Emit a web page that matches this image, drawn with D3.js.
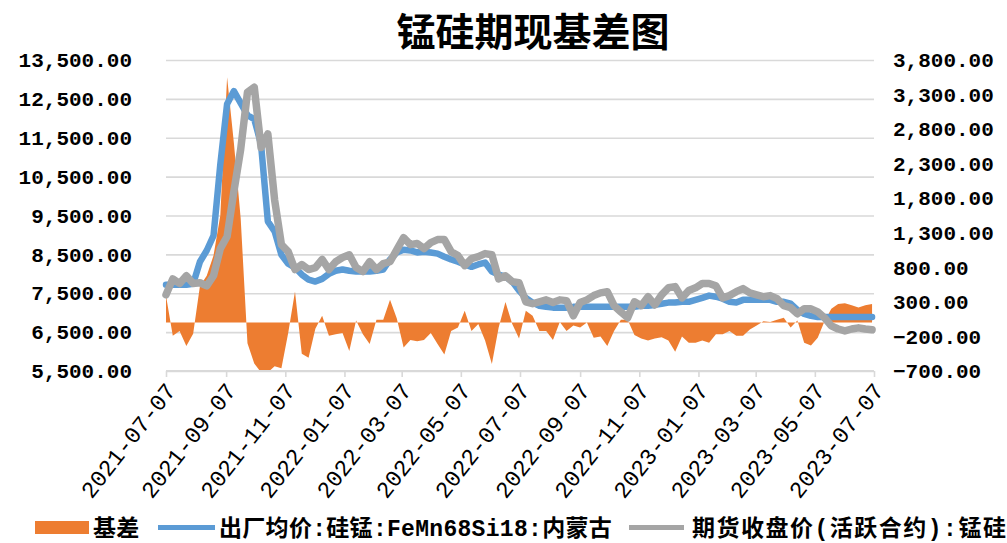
<!DOCTYPE html>
<html><head><meta charset="utf-8">
<script src="https://cdn.jsdelivr.net/npm/d3@7"></script>
<style>
html,body{margin:0;padding:0;background:#fff;}
svg{display:block;}
</style></head>
<body>
<svg id="c" width="1007" height="543"></svg>
<script>
const dates = [
"2021-07-07","2021-07-14","2021-07-21","2021-07-28","2021-08-04","2021-08-11","2021-08-18","2021-08-25","2021-09-01","2021-09-08","2021-09-15","2021-09-22","2021-09-29","2021-10-06","2021-10-13","2021-10-20","2021-10-27","2021-11-03","2021-11-10","2021-11-17","2021-11-24","2021-12-01","2021-12-08","2021-12-15","2021-12-22","2021-12-29",
"2022-01-05","2022-01-12","2022-01-19","2022-01-26","2022-02-02","2022-02-09","2022-02-16","2022-02-23","2022-03-02","2022-03-09","2022-03-16","2022-03-23","2022-03-30","2022-04-06","2022-04-13","2022-04-20","2022-04-27","2022-05-04","2022-05-11","2022-05-18","2022-05-25","2022-06-01","2022-06-08","2022-06-15","2022-06-22","2022-06-29","2022-07-06","2022-07-13","2022-07-20","2022-07-27","2022-08-03","2022-08-10","2022-08-17","2022-08-24","2022-08-31","2022-09-07","2022-09-14","2022-09-21","2022-09-28","2022-10-05","2022-10-12","2022-10-19","2022-10-26","2022-11-02","2022-11-09","2022-11-16","2022-11-23","2022-11-30","2022-12-07","2022-12-14","2022-12-21","2022-12-28",
"2023-01-04","2023-01-11","2023-01-18","2023-01-25","2023-02-01","2023-02-08","2023-02-15","2023-02-22","2023-03-01","2023-03-08","2023-03-15","2023-03-22","2023-03-29","2023-04-05","2023-04-12","2023-04-19","2023-04-26","2023-05-03","2023-05-10","2023-05-17","2023-05-24","2023-05-31","2023-06-07","2023-06-14","2023-06-21","2023-06-28","2023-07-05"
];
// 出厂均价:硅锰:FeMn68Si18:内蒙古 (left axis)
const spot = [
7720,7720,7720,7720,7745,8310,8600,8980,10820,12370,12700,12390,12080,11980,11330,9350,9090,8490,8260,8160,7980,7850,7800,7870,8000,8080,
8110,8080,8060,8060,8060,8080,8110,8370,8550,8620,8600,8550,8570,8550,8520,8440,8370,8310,8240,8180,8240,8290,8060,7980,7930,7800,7570,7380,7260,7180,7150,7130,7130,7130,7150,7150,7150,7150,7150,7150,7150,7150,7150,7150,7180,7180,7200,7230,7260,7260,7280,7280,
7330,7380,7440,7410,7360,7280,7260,7330,7330,7330,7330,7330,7280,7280,7230,7070,6970,6920,6890,6890,6890,6890,6890,6890,6890,6890,6890
];
// 期货收盘价(活跃合约):锰硅 (left axis)
const futures = [
7460,7870,7750,7950,7750,7770,7690,7950,8650,8960,10120,11200,12670,12800,11250,11600,9900,8750,8570,8110,8240,8110,8160,8370,8110,8310,
8420,8490,8160,8060,8310,8110,8260,8310,8620,8930,8750,8780,8650,8800,8880,8880,8570,8470,8210,8390,8440,8520,8490,7870,7950,7800,7770,7280,7230,7280,7330,7260,7330,7310,6920,7260,7330,7440,7510,7540,7180,7020,6870,7280,7180,7410,7200,7460,7640,7670,7380,7570,
7640,7750,7750,7690,7380,7440,7540,7620,7510,7460,7410,7440,7360,7180,7130,6970,7100,7100,7020,6870,6660,6580,6530,6580,6610,6580,6560
];
// 基差 (right axis)
const basis = [
390,-190,-120,-340,-160,530,680,970,1550,3550,2600,1510,-300,-590,-720,-720,-630,-660,-150,450,-450,-510,-90,100,-190,-170,
-150,-410,30,-170,-310,40,40,330,60,-360,-250,-270,-250,-150,-310,-460,-120,-70,170,-120,-20,-260,-600,-70,300,-20,-230,170,100,-120,-120,-250,10,-120,-40,-70,0,-220,-200,-340,-120,40,40,-180,-230,-260,-230,-210,-260,-420,-200,-290,
-290,-260,-290,-170,-170,-120,-190,-190,-100,-40,20,10,40,70,-70,30,-290,-330,-220,20,200,270,280,250,220,250,270
];
const xTickLabels = ["2021-07-07","2021-09-07","2021-11-07","2022-01-07","2022-03-07","2022-05-07","2022-07-07","2022-09-07","2022-11-07","2023-01-07","2023-03-07","2023-05-07","2023-07-07"];
const leftTicks = [5500,6500,7500,8500,9500,10500,11500,12500,13500];
const rightTicks = [-700,-200,300,800,1300,1800,2300,2800,3300,3800];
const seriesNames = ["基差","出厂均价:硅锰:FeMn68Si18:内蒙古","期货收盘价(活跃合约):锰硅"];
const title = "锰硅期现基差图";

const parse = d3.timeParse("%Y-%m-%d");
const svg = d3.select("#c");
const L = 166, R = 874, T = 60, B = 371;
const x = d3.scaleTime().domain([parse("2021-07-07"), parse("2023-07-07")]).range([L, R]);
const yL = d3.scaleLinear().domain([5500, 13500]).range([B, T]);
const yR = d3.scaleLinear().domain([-700, 3800]).range([B, T]);
const numFmt = d3.format(",.2f");
const tickFont = "'Liberation Mono','DejaVu Sans Mono',monospace";
const cjkFont = "'Liberation Mono','Noto Sans CJK SC',sans-serif";

const rows = dates.map((d, i) => ({d: parse(d), s: spot[i], f: futures[i], b: basis[i]}));

// title
svg.append("text").attr("x", 533).attr("y", 46).attr("text-anchor", "middle")
  .attr("font-family", "'Noto Sans CJK SC',sans-serif").attr("font-weight", "bold")
  .attr("font-size", 39).attr("fill", "#000").text(title);

// gridlines (left axis)
const gL = svg.append("g").attr("transform", `translate(${L},0)`)
  .call(d3.axisLeft(yL).tickValues(leftTicks).tickSize(-(R - L)).tickFormat(""));
gL.select(".domain").remove();
gL.selectAll("line").attr("stroke", "#d9d9d9").attr("stroke-width", 1.6);

// left labels
const gLl = svg.append("g").attr("transform", `translate(132,0)`)
  .call(d3.axisLeft(yL).tickValues(leftTicks).tickSize(0).tickPadding(0).tickFormat(numFmt));
gLl.select(".domain").remove();
gLl.selectAll("text").attr("font-family", tickFont).attr("font-size", 21).attr("font-weight", "bold").attr("fill", "#000");

// right labels
const gRl = svg.append("g").attr("transform", `translate(893,0)`)
  .call(d3.axisRight(yR).tickValues(rightTicks).tickSize(0).tickPadding(0).tickFormat(numFmt));
gRl.select(".domain").remove();
gRl.selectAll("text").attr("font-family", tickFont).attr("font-size", 21).attr("font-weight", "bold").attr("fill", "#000");

// clip
svg.append("clipPath").attr("id", "clip").append("rect").attr("x", L).attr("y", T).attr("width", R - L).attr("height", B - T);

// basis area
const area = d3.area().x(d => x(d.d)).y0(yR(0)).y1(d => yR(d.b));
svg.append("path").datum(rows).attr("clip-path", "url(#clip)").attr("d", area).attr("fill", "#ED7D31");

// x axis
const gX = svg.append("g").attr("transform", `translate(0,${B})`)
  .call(d3.axisBottom(x).tickValues(xTickLabels.map(parse)).tickSize(6).tickFormat((d, i) => xTickLabels[i]));
gX.select(".domain").attr("stroke", "#d9d9d9").attr("stroke-width", 2).attr("d", `M${L},0H${R}`);
gX.selectAll(".tick line").attr("stroke", "#d9d9d9").attr("stroke-width", 1.6);
gX.selectAll(".tick text").attr("font-family", tickFont).attr("font-size", 23).attr("fill", "#000")
  .attr("text-anchor", "end").attr("dy", "0.35em").attr("y", 0)
  .attr("transform", "translate(4,15) rotate(-52)");

// lines
const lineS = d3.line().x(d => x(d.d)).y(d => yL(d.s));
const lineF = d3.line().x(d => x(d.d)).y(d => yL(d.f));
svg.append("path").datum(rows).attr("d", lineS).attr("fill", "none").attr("stroke", "#5B9BD5")
  .attr("stroke-width", 6.5).attr("stroke-linejoin", "round").attr("stroke-linecap", "round");
svg.append("path").datum(rows).attr("d", lineF).attr("fill", "none").attr("stroke", "#A5A5A5")
  .attr("stroke-width", 7.5).attr("stroke-linejoin", "round").attr("stroke-linecap", "round");

// legend
const lg = svg.append("g");
lg.append("rect").attr("x", 35).attr("y", 521).attr("width", 54).attr("height", 13).attr("fill", "#ED7D31");
lg.append("line").attr("x1", 158).attr("x2", 215).attr("y1", 527.5).attr("y2", 527.5).attr("stroke", "#5B9BD5").attr("stroke-width", 5);
lg.append("line").attr("x1", 629).attr("x2", 684).attr("y1", 527.5).attr("y2", 527.5).attr("stroke", "#A5A5A5").attr("stroke-width", 5);
const legX = [93, 219, 692];
seriesNames.forEach((n, i) => {
  lg.append("text").attr("x", legX[i]).attr("y", 536).attr("font-family", cjkFont)
    .attr("font-weight", "bold").attr("font-size", 23).attr("letter-spacing", i === 2 ? 1.5 : 0.3)
    .attr("fill", "#000").text(n);
});
</script>
</body></html>
